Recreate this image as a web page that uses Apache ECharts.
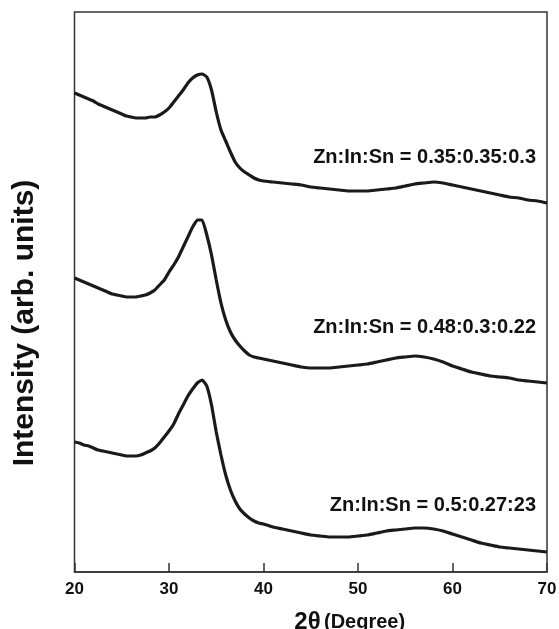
<!DOCTYPE html>
<html>
<head>
<meta charset="utf-8">
<script src="https://cdn.jsdelivr.net/npm/echarts@6/dist/echarts.min.js"></script>
<style>
  html, body { margin: 0; padding: 0; background: #fff; }
  #main { width: 559px; height: 629px; }
</style>
</head>
<body>
<div id="main"></div>
<script>
// 2-theta positions (degrees)
var twoTheta = [20, 20.5, 21, 21.5, 22, 22.5, 23, 23.5, 24, 24.5, 25, 25.5, 26, 26.5, 27, 27.5, 28, 28.5, 29, 29.5,
  30, 30.5, 31, 31.5, 32, 32.5, 33, 33.5, 34, 34.5, 35, 35.5, 36, 36.5, 37, 37.5, 38, 38.5, 39, 39.5, 40,
  41, 42, 43, 44, 45, 46, 47, 48, 49, 50, 51, 52, 53, 54, 55, 56, 57, 58, 59, 60,
  61, 62, 63, 64, 65, 66, 67, 68, 69, 70];

// intensities (arb. units, curves already offset)
var sample1 = [479, 477, 475, 473, 471, 468, 466, 464, 462, 460, 458, 456, 455, 454, 454, 454, 455, 455, 457, 460,
  464, 470, 476, 482, 489, 494, 497, 498, 495, 482, 460, 442, 431, 420, 410, 404, 400, 397, 394, 392, 391,
  390, 389, 388, 387, 385, 384, 383, 382, 381, 381, 381, 382, 383, 384, 386, 388, 389, 390, 389, 387,
  385, 383, 381, 379, 377, 375, 374, 372, 371, 369];
var sample2 = [294, 292, 290, 288, 286, 284, 282, 280, 278, 277, 276, 275, 275, 275, 276, 277, 279, 282, 287, 292,
  300, 307, 315, 325, 335, 345, 352, 352, 337, 317, 292, 269, 252, 240, 232, 226, 221, 217, 215, 214, 213,
  211, 209, 207, 205, 204, 204, 204, 205, 206, 207, 208, 210, 212, 214, 215, 216, 215, 213, 210, 206,
  203, 200, 198, 196, 195, 194, 192, 191, 190, 189];
var sample3 = [130, 129, 127, 126, 124, 122, 121, 120, 119, 118, 117, 116, 116, 116, 117, 119, 121, 124, 129, 135,
  141, 148, 158, 167, 176, 183, 189, 192, 186, 167, 140, 117, 97, 82, 71, 63, 58, 54, 51, 49, 48,
  45, 43, 41, 39, 37, 36, 35, 35, 35, 36, 37, 39, 41, 42, 43, 44, 44, 43, 41, 38,
  35, 32, 29, 27, 25, 24, 23, 22, 21, 20];

var labels = ['Zn:In:Sn = 0.35:0.35:0.3', 'Zn:In:Sn = 0.48:0.3:0.22', 'Zn:In:Sn = 0.5:0.27:23'];
var xTicks = [20, 30, 40, 50, 60, 70];

function pairs(ys) {
  return twoTheta.map(function (x, i) { return [x, ys[i]]; });
}

var chart = echarts.init(document.getElementById('main'));
var font = 'Liberation Sans, Arial, sans-serif';
var labelY = [157, 327, 505];

chart.setOption({
  animation: false,
  backgroundColor: '#fff',
  grid: {
    left: 74.5, right: 12, top: 12, bottom: 57,
    outerBoundsMode: 'none', containLabel: false,
    show: true, borderColor: '#333', borderWidth: 1.5
  },
  xAxis: {
    type: 'value',
    min: xTicks[0], max: xTicks[xTicks.length - 1], interval: 10,
    axisLine: { lineStyle: { color: '#333', width: 1.5 } },
    axisTick: { inside: true, length: 9, lineStyle: { color: '#333', width: 1.5 } },
    axisLabel: { color: '#111', fontSize: 17, fontWeight: 'bold', fontFamily: font, margin: 9 },
    splitLine: { show: false },
    name: '{a|2θ} {b|(Degree)}',
    nameLocation: 'middle',
    nameGap: 38,
    nameTextStyle: {
      padding: [0, 0, 0, 78],
      rich: {
        a: { fontSize: 24, fontWeight: 'bold', fontFamily: font, color: '#111' },
        b: { fontSize: 20, fontWeight: 'bold', fontFamily: font, color: '#111' }
      }
    }
  },
  yAxis: {
    type: 'value', min: 0, max: 560,
    axisLine: { show: false }, axisTick: { show: false },
    axisLabel: { show: false }, splitLine: { show: false }
  },
  graphic: [
    {
      type: 'text', x: 25, y: 323, rotation: Math.PI / 2,
      style: {
        text: 'Intensity (arb. units)', fill: '#111', font: 'bold 30px ' + font,
        textAlign: 'center', textVerticalAlign: 'middle'
      }
    }
  ].concat(labels.map(function (t, i) {
    return {
      type: 'text', x: 536, y: labelY[i],
      style: { text: t, fill: '#111', font: 'bold 20px ' + font, textAlign: 'right', textVerticalAlign: 'middle' }
    };
  })),
  series: [sample1, sample2, sample3].map(function (ys) {
    return {
      type: 'line', data: pairs(ys), showSymbol: false, smooth: 0.15,
      lineStyle: { color: '#1a1a1a', width: 3.2 }
    };
  })
});
</script>
</body>
</html>
